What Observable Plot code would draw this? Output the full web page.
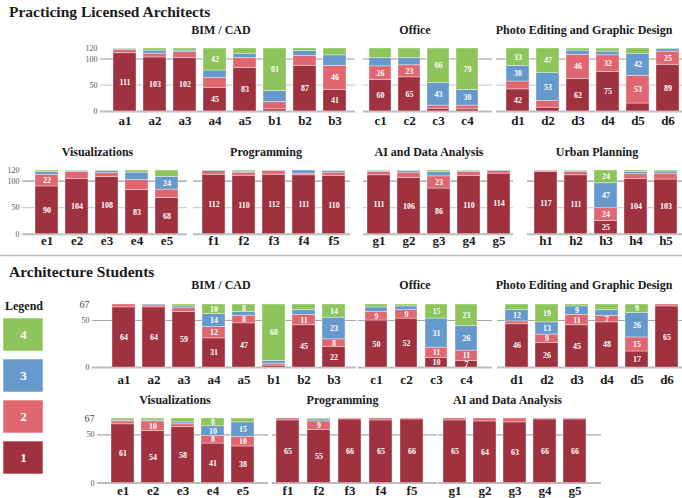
<!DOCTYPE html>
<html><head><meta charset="utf-8">
<script src="https://cdn.jsdelivr.net/npm/d3@7"></script>
<script src="https://cdn.jsdelivr.net/npm/@observablehq/plot@0.6"></script>
<style>
html,body{margin:0;padding:0;background:#fff;}
#root{position:relative;width:682px;height:498px;overflow:hidden;font-family:"Liberation Serif",serif;}
.pn{position:absolute;}
</style></head>
<body><div id="root"></div>
<script>
// ---------- data ----------
const levels = [1, 2, 3, 4];
const levelColors = ["#A0323F", "#E06770", "#6699CC", "#8DC55A"];

// Practicing Licensed Architects (n = 120); rows = level 1..4
const proBIMCats = ["a1","a2","a3","a4","a5","b1","b2","b3"];
const proBIM = [
  [111,103,102,45,83,4,87,41],
  [6,7,11,19,19,14,19,46],
  [2,6,3,14,8,21,9,20],
  [1,4,4,42,10,81,5,13]
];
const proOfficeCats = ["c1","c2","c3","c4"];
const proOffice = [
  [60,65,5,4],
  [26,23,6,7],
  [16,14,43,30],
  [18,18,66,79]
];
const proPhotoCats = ["d1","d2","d3","d4","d5","d6"];
const proPhoto = [
  [42,7,62,75,15,89],
  [15,13,46,32,53,25],
  [30,53,8,7,42,5],
  [33,47,4,6,10,1]
];
const proVisCats = ["e1","e2","e3","e4","e5"];
const proVis = [
  [90,104,108,83,68],
  [22,13,7,19,16],
  [5,2,4,14,24],
  [3,1,1,4,12]
];
const proProgCats = ["f1","f2","f3","f4","f5"];
const proProg = [
  [112,110,112,111,110],
  [7,6,7,3,6],
  [1,2,1,6,3],
  [0,2,0,0,1]
];
const proAICats = ["g1","g2","g3","g4","g5"];
const proAI = [
  [111,106,86,110,114],
  [6,10,23,7,5],
  [2,3,8,2,1],
  [1,1,3,1,0]
];
const proUrbanCats = ["h1","h2","h3","h4","h5"];
const proUrban = [
  [117,111,25,104,103],
  [2,6,24,9,11],
  [1,2,47,4,4],
  [0,1,24,3,2]
];

// Architecture Students (n = 67)
const stuBIM = [
  [64,64,59,31,47,2,45,22],
  [3,2,4,12,8,2,11,8],
  [0,1,2,14,4,3,5,23],
  [0,0,2,10,8,60,6,14]
];
const stuOffice = [
  [50,52,10,7],
  [9,9,11,11],
  [5,4,31,26],
  [3,2,15,23]
];
const stuPhoto = [
  [46,26,45,48,17,65],
  [3,9,11,7,15,2],
  [12,13,9,6,26,0],
  [6,19,2,6,9,0]
];
const stuVis = [
  [61,54,58,41,38],
  [3,10,3,8,10],
  [1,1,2,10,15],
  [2,2,4,8,4]
];
const stuProg = [
  [65,55,66,65,66],
  [2,9,1,2,1],
  [0,2,0,0,0],
  [0,1,0,0,0]
];
const stuAI = [
  [65,64,63,66,66],
  [2,3,4,1,1],
  [0,0,0,0,0],
  [0,0,0,0,0]
];

const proTotal = 120, stuTotal = 67;
const proTicks = [0, 50, 100, 120];
const stuTicks = [0, 50];
const stuTopTick = [67];

const sectionTitles = ["Practicing Licensed Architects", "Architecture Students"];
const legendTitle = "Legend";

// ---------- rendering ----------
const root = document.getElementById("root");
const FONT = "Liberation Serif";
const colorScale = {type: "ordinal", domain: levels, range: levelColors};

function rowsOf(cats, vals) {
  const out = [];
  cats.forEach((c, i) => levels.forEach((lv, j) => {
    const v = vals[j][i];
    if (v > 0) out.push({cat: c, level: lv, value: v});
  }));
  return out;
}

function place(svg, left, top, w, h) {
  const d = document.createElement("div");
  d.className = "pn";
  d.style.left = left + "px"; d.style.top = top + "px";
  d.style.width = w + "px"; d.style.height = h + "px";
  d.appendChild(svg);
  root.appendChild(d);
}

function drawPanel(p) {
  const mL = p.axis ? 30 : 2, mR = 2, mT = 4, mB = 24;
  const svgLeft = p.xs - mL, svgTop = p.yTop - mT;
  const width = Math.round(mL + (p.xe - p.xs) + mR);
  const height = mT + (p.y0 - p.yTop) + mB;
  const n = p.cats.length;
  const gap = p.step - p.bw;
  const r0 = p.bar0 - svgLeft;
  const data = rowsOf(p.cats, p.vals);
  const marks = [];
  p.rules.forEach(r => marks.push(Plot.ruleY([r.v], {stroke: r.c, strokeWidth: r.w})));
  marks.push(Plot.barY(data, Plot.stackY({
    x: "cat", y: "value", fill: "level",
    stroke: "#fff", strokeOpacity: 0.45, strokeWidth: 0.8
  })));
  marks.push(Plot.text(data, Plot.stackY({
    x: "cat", y: "value",
    text: d => d.value >= p.thr ? String(d.value) : null,
    fill: "white", fontWeight: "bold", fontSize: 8, fontFamily: FONT
  })));
  marks.push(Plot.axisX({tickSize: 0, tickPadding: p.pad, fontSize: 13, fontWeight: "bold",
    color: "#1a1a1a", label: null, fontFamily: FONT}));
  if (p.axis) {
    marks.push(Plot.axisY(p.ticks, {tickSize: 0, tickPadding: 3, fontSize: 8, color: "#555",
      label: null, fontFamily: FONT}));
    if (p.topTick) marks.push(Plot.axisY(p.topTick, {tickSize: 0, tickPadding: 3, fontSize: 10,
      color: "#444", label: null, fontFamily: FONT}));
  }
  const yOpts = {domain: [0, p.ymax]};
  if (!p.axis) yOpts.axis = null;
  const svg = Plot.plot({
    width, height, marginLeft: mL, marginRight: mR, marginTop: mT, marginBottom: mB,
    style: {background: "transparent", overflow: "visible", fontFamily: FONT},
    x: {type: "band", domain: p.cats, range: [r0, r0 + n * p.step - gap],
        paddingInner: gap / p.step, paddingOuter: 0},
    y: yOpts,
    color: colorScale,
    marks
  });
  place(svg, svgLeft, svgTop, width, height);
}

const proRules = [{v: 50, c: "#cfcfcf", w: 1.2}, {v: 100, c: "#9a9a9a", w: 1.2}, {v: 0, c: "#bdbdbd", w: 2}];
const stuRules = [{v: 50, c: "#a8a8a8", w: 1.2}, {v: 0, c: "#bdbdbd", w: 2}];

const proRow1 = {yTop: 47.8, y0: 110.7, ymax: proTotal, ticks: proTicks, rules: proRules, thr: 22, pad: 4};
const proRow2 = {yTop: 169.6, y0: 233.3, ymax: proTotal, ticks: proTicks, rules: proRules, thr: 22, pad: 2};
const stuRow1 = {yTop: 304.3, y0: 367.3, ymax: stuTotal, ticks: stuTicks, topTick: stuTopTick, rules: stuRules, thr: 7, pad: 7};
const stuRow2 = {yTop: 417.7, y0: 482.3, ymax: stuTotal, ticks: stuTicks, topTick: stuTopTick, rules: stuRules, thr: 7, pad: 3};

const panels = [
  {...proRow1, cats: proBIMCats, vals: proBIM, axis: true, xs: 100, xe: 355, bar0: 112.7, step: 30.1, bw: 23.3},
  {...proRow1, cats: proOfficeCats, vals: proOffice, axis: false, xs: 362.7, xe: 492, bar0: 366.5, step: 30, bw: 22.6},
  {...proRow1, cats: proPhotoCats, vals: proPhoto, axis: false, xs: 496, xe: 682, bar0: 505.7, step: 30, bw: 22.6},
  {...proRow2, cats: proVisCats, vals: proVis, axis: true, xs: 21.7, xe: 187, bar0: 34.3, step: 30.2, bw: 23},
  {...proRow2, cats: proProgCats, vals: proProg, axis: false, xs: 193.3, xe: 350, bar0: 202.7, step: 30, bw: 23},
  {...proRow2, cats: proAICats, vals: proAI, axis: false, xs: 362.7, xe: 513, bar0: 366.7, step: 30, bw: 23},
  {...proRow2, cats: proUrbanCats, vals: proUrban, axis: false, xs: 526.7, xe: 682, bar0: 533.3, step: 30, bw: 23},
  {...stuRow1, cats: proBIMCats, vals: stuBIM, axis: true, xs: 91.7, xe: 356, bar0: 109.3, step: 30.55, bw: 23.3},
  {...stuRow1, cats: proOfficeCats, vals: stuOffice, axis: false, xs: 358, xe: 491.7, bar0: 363.3, step: 30.9, bw: 23},
  {...stuRow1, cats: proPhotoCats, vals: stuPhoto, axis: false, xs: 496.7, xe: 682, bar0: 502.7, step: 30.6, bw: 23},
  {...stuRow2, cats: proVisCats, vals: stuVis, axis: true, xs: 96.7, xe: 268, bar0: 108.3, step: 30.85, bw: 23.3},
  {...stuRow2, cats: proProgCats, vals: stuProg, axis: false, xs: 271.7, xe: 436.5, bar0: 276, step: 31, bw: 23.3},
  {...stuRow2, cats: proAICats, vals: stuAI, axis: false, xs: 437.5, xe: 600, bar0: 440.7, step: 30.8, bw: 23.3}
];
panels.forEach(drawPanel);

// Legend drawn with Plot cells
{
  const top = 310;
  const svg = Plot.plot({
    width: 50, height: 170, margin: 0,
    style: {background: "transparent", overflow: "visible", fontFamily: FONT},
    x: {type: "band", domain: ["L"], range: [3.3, 43.3], padding: 0, axis: null},
    y: {type: "band", domain: levels.slice().reverse(), range: [317.7 - top, 474.3 - top],
        paddingInner: 0.2, paddingOuter: 0, axis: null},
    color: colorScale,
    marks: [
      Plot.cell(levels, {x: () => "L", y: d => d, fill: d => d, stroke: "#fff", strokeOpacity: 0.4, strokeWidth: 1.5}),
      Plot.text(levels, {x: () => "L", y: d => d, text: d => String(d), fill: "white",
        fontWeight: "bold", fontSize: 13, fontFamily: FONT})
    ]
  });
  place(svg, 0, top, 50, 170);
}

// Overlay: section titles, panel titles, separator
const ov = d3.select(root).append("svg")
  .attr("width", 682).attr("height", 498)
  .style("position", "absolute").style("left", "0px").style("top", "0px")
  .style("pointer-events", "none").style("font-family", FONT);

ov.append("line").attr("x1", 0).attr("x2", 682).attr("y1", 255.5).attr("y2", 255.5)
  .attr("stroke", "#bdbdbd").attr("stroke-width", 1.5);

const sectionPos = [{x: 9, y: 17}, {x: 9, y: 277}];
sectionTitles.forEach((t, i) => ov.append("text").attr("x", sectionPos[i].x).attr("y", sectionPos[i].y)
  .attr("font-size", 15.5).attr("font-weight", "bold").attr("fill", "#1a1a1a").text(t));

ov.append("text").attr("x", 5).attr("y", 310).attr("font-size", 12).attr("font-weight", "bold")
  .attr("fill", "#1a1a1a").text(legendTitle);

const panelTitles = [
  {t: "BIM / CAD", x: 221, y: 34}, {t: "Office", x: 415, y: 34}, {t: "Photo Editing and Graphic Design", x: 584, y: 34},
  {t: "Visualizations", x: 97.5, y: 156}, {t: "Programming", x: 266, y: 156},
  {t: "AI and Data Analysis", x: 429, y: 156}, {t: "Urban Planning", x: 597, y: 156},
  {t: "BIM / CAD", x: 221, y: 289}, {t: "Office", x: 415, y: 289}, {t: "Photo Editing and Graphic Design", x: 584, y: 289},
  {t: "Visualizations", x: 175, y: 403.5}, {t: "Programming", x: 342.5, y: 403.5}, {t: "AI and Data Analysis", x: 507.5, y: 403.5}
];
panelTitles.forEach(p => ov.append("text").attr("x", p.x).attr("y", p.y).attr("text-anchor", "middle")
  .attr("font-size", 12).attr("font-weight", "bold").attr("fill", "#1a1a1a").text(p.t));
</script>
</body></html>
